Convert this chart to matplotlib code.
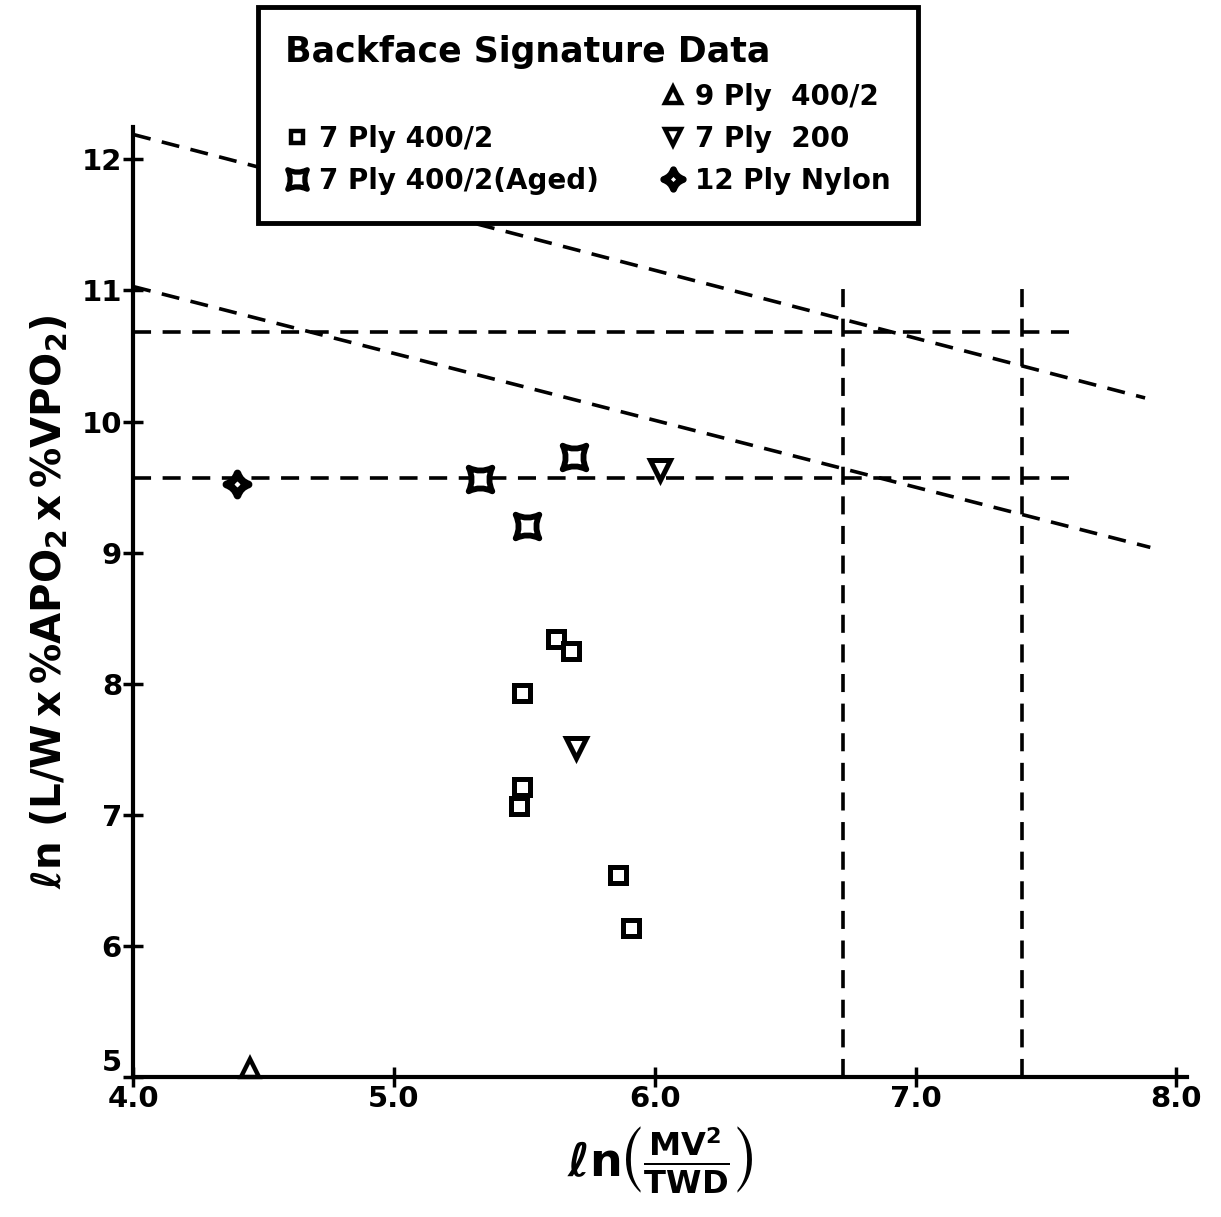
import numpy as np
import matplotlib.pyplot as plt
from matplotlib.path import Path
from matplotlib.lines import Line2D

plt.rcParams['font.family'] = ['DejaVu Sans']
plt.rcParams['font.weight'] = 'bold'
plt.rcParams['mathtext.default'] = 'bf'

# data
sq_x = [5.62, 5.68, 5.49, 5.49, 5.48, 5.86, 5.91]
sq_y = [8.34, 8.25, 7.93, 7.21, 7.07, 6.54, 6.14]
aged_x = [5.33, 5.69, 5.51]
aged_y = [9.56, 9.73, 9.20]
ply200_x = [6.02, 5.70]
ply200_y = [9.63, 7.51]
ply9_x = [4.45]
ply9_y = [5.07]
nylon_x = [4.40]
nylon_y = [9.52]

# dashed reference lines
slope1_x, slope1_y = [4.0, 7.88], [12.19, 10.18]
slope2_x, slope2_y = [4.0, 7.90], [11.03, 9.04]
hlines_y = [10.68, 9.57]
hline_xmax = 7.62
vlines_x = [6.72, 7.41]
vline_ymax = 11.06


def concave(rot=0.0):
    c = [(1, 1), (-1, 1), (-1, -1), (1, -1)]
    verts = [c[0]]
    codes = [Path.MOVETO]
    for i in range(4):
        a, b = c[i], c[(i + 1) % 4]
        verts += [((a[0] + b[0]) * 0.25, (a[1] + b[1]) * 0.25), b]
        codes += [Path.CURVE3, Path.CURVE3]
    verts.append((0, 0))
    codes.append(Path.CLOSEPOLY)
    v = np.array(verts, float)
    t = np.deg2rad(rot)
    R = np.array([[np.cos(t), -np.sin(t)], [np.sin(t), np.cos(t)]])
    return Path(v @ R.T, codes)


aged_m = concave(0)
nylon_m = concave(45)

fig = plt.figure(figsize=(12.21, 12.17), dpi=100)
ax = fig.add_axes([0.109, 0.115, 0.863, 0.781])
ax.set_xlim(4.0, 8.04)
ax.set_ylim(5.0, 12.25)

dash = dict(color='black', lw=2.6, ls=(0, (5, 3.2)))
ax.plot(slope1_x, slope1_y, **dash)
ax.plot(slope2_x, slope2_y, **dash)
for y in hlines_y:
    ax.plot([4.0, hline_xmax], [y, y], **dash)
for x in vlines_x:
    ax.plot([x, x], [5.0, vline_ymax], **dash)

mk = dict(ls='none', color='black', mfc='white')
ax.plot(sq_x, sq_y, marker='s', ms=11, mew=3.6, clip_on=False, **mk)
ax.plot(aged_x, aged_y, marker=aged_m, ms=17, mew=4.2, clip_on=False, **mk)
ax.plot(ply200_x, ply200_y, marker='v', ms=14, mew=3.6, clip_on=False, **mk)
ax.plot(ply9_x, ply9_y, marker='^', ms=13, mew=3.2, clip_on=False, **mk)
ax.plot(nylon_x, nylon_y, marker=nylon_m, ms=16, mew=5.5, clip_on=False, **mk)

for s in ['top', 'right']:
    ax.spines[s].set_visible(False)
for s in ['left', 'bottom']:
    ax.spines[s].set_linewidth(3)
ax.set_xticks([4.0, 5.0, 6.0, 7.0, 8.0])
ax.set_xticklabels(['4.0', '5.0', '6.0', '7.0', '8.0'])
ax.set_yticks(range(5, 13))
ax.tick_params(direction='inout', length=14, width=2.5, labelsize=21)
ax.tick_params(axis='x', pad=-1)
ax.tick_params(axis='y', pad=1)
for lab in ax.get_xticklabels() + ax.get_yticklabels():
    lab.set_fontweight('bold')
ax.get_yticklabels()[0].set_va('bottom')

ax.set_xlabel(r'$\ell n\left(\frac{MV^2}{TWD}\right)$', fontsize=33, labelpad=8)
ax.set_ylabel(r'$\ell n\ \left(L/W\,x\,\%APO_2\,x\,\%VPO_2\right)$', fontsize=29, labelpad=8)

blank = Line2D([], [], ls='none', marker='None')
h = [blank,
     Line2D([], [], marker='s', ms=9, mew=3.2, **mk),
     Line2D([], [], marker=aged_m, ms=14, mew=3.8, **mk),
     Line2D([], [], marker='^', ms=12, mew=3.2, **mk),
     Line2D([], [], marker='v', ms=12, mew=3.2, **mk),
     Line2D([], [], marker=nylon_m, ms=14, mew=5, **mk)]
labels = ['', '7 Ply 400/2', '7 Ply 400/2(Aged)', '9 Ply  400/2', '7 Ply  200', '12 Ply Nylon']
leg = fig.legend(h, labels, ncol=2, loc='upper left',
                 bbox_to_anchor=(0.211, 0.818, 0.541, 0.176), mode='expand',
                 borderaxespad=0.0,
                 title='Backface Signature Data', title_fontsize=25,
                 prop={'size': 20, 'weight': 'bold'}, frameon=True, fancybox=False,
                 framealpha=1, edgecolor='black', handlelength=0.8, handletextpad=0.4,
                 labelspacing=0.5, borderpad=1.0, columnspacing=1.0)
leg.get_frame().set_linewidth(3.5)
leg._legend_box.align = 'left'

fig.savefig('out.png', dpi=100)
